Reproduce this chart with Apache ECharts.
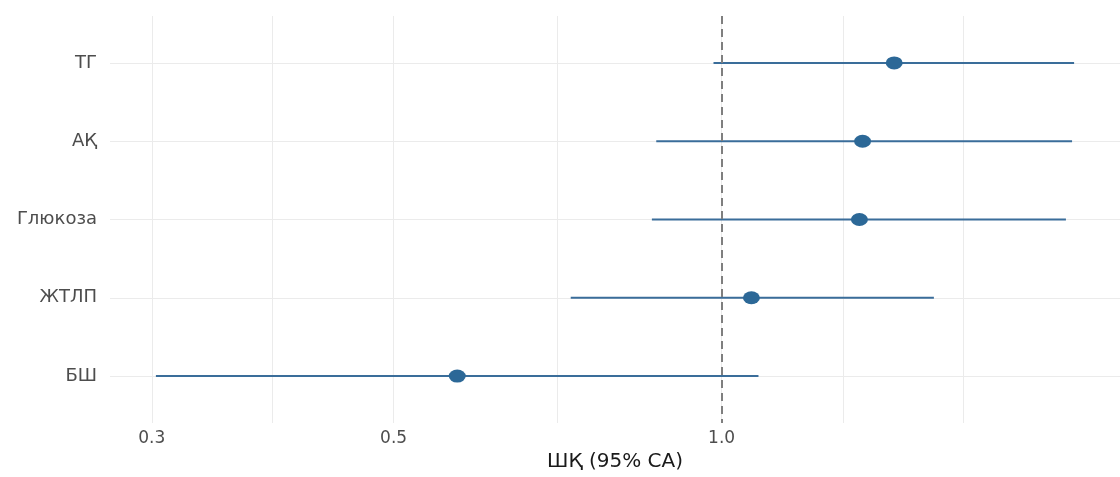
<!DOCTYPE html>
<html>
<head>
<meta charset="utf-8">
<script src="https://cdn.jsdelivr.net/npm/echarts@6/dist/echarts.min.js"></script>
<style>
  html, body { margin: 0; background: #fff; overflow: hidden; }
  #chart { width: 1120px; height: 477px; }
</style>
</head>
<body>
<div id="chart"></div>
<script>
// rows top to bottom
const categories = ['ТГ', 'АҚ', 'Глюкоза', 'ЖТЛП', 'БШ'];
const oddsRatio = [1.44, 1.347, 1.338, 1.065, 0.572];
const ciLower = [0.983, 0.871, 0.863, 0.727, 0.3026];
const ciUpper = [2.106, 2.097, 2.07, 1.566, 1.081];

// x axis is log scaled: labelled breaks plus the light grid positions
const labelBreaks = [0.3, 0.5, 1.0];
const gridBreaks = [0.3, 0.387, 0.5, 0.707, 1.0, 1.292, 1.668];
const refValue = 1.0;

const ln = Math.log;
const rows = categories.map((c, i) => i + 1);

// ggplot style 5% expansion of the log range
const lo = ln(Math.min(...ciLower));
const hi = ln(Math.max(...ciUpper));
const pad = (hi - lo) * 0.05;

const lineColor = '#3a6d9a';
const pointColor = '#2c6897';
const gridColor = '#ebebeb';
const font = 'DejaVu Sans';

const chart = echarts.init(document.getElementById('chart'), null, { renderer: 'canvas' });

chart.setOption({
  animation: false,
  backgroundColor: '#fff',
  grid: { left: 110, top: 16, width: 1016, bottom: 47, containLabel: false },
  xAxis: {
    type: 'value',
    min: lo - pad,
    max: hi + pad,
    name: 'ШҚ (95% СА)',
    nameLocation: 'middle',
    nameGap: 29,
    nameTextStyle: { color: '#1a1a1a', fontSize: 20, fontFamily: font },
    axisLine: { show: false },
    axisTick: { show: false, customValues: gridBreaks.map(ln) },
    splitLine: { show: true, lineStyle: { color: gridColor, width: 1 } },
    axisLabel: {
      customValues: labelBreaks.map(ln),
      formatter: (v) => Math.exp(v).toFixed(1),
      color: '#4d4d4d',
      fontSize: 17,
      fontFamily: font,
      margin: 7,
    },
  },
  yAxis: {
    type: 'value',
    inverse: true,
    min: 0.4,
    max: 5.6,
    axisLine: { show: false },
    axisTick: { show: false, customValues: rows },
    splitLine: { show: true, lineStyle: { color: gridColor, width: 1 } },
    axisLabel: {
      customValues: rows,
      formatter: (v) => categories[Math.round(v) - 1] || '',
      color: '#4d4d4d',
      fontSize: 18,
      fontFamily: font,
      margin: 13,
    },
  },
  series: [
    {
      // confidence intervals
      type: 'custom',
      z: 2,
      silent: true,
      data: categories.map((c, i) => [ln(ciLower[i]), ln(ciUpper[i]), i + 1]),
      renderItem: (params, api) => {
        const a = api.coord([api.value(0), api.value(2)]);
        const b = api.coord([api.value(1), api.value(2)]);
        return {
          type: 'line',
          shape: { x1: a[0], y1: a[1], x2: b[0], y2: b[1] },
          style: { stroke: lineColor, lineWidth: 2 },
        };
      },
    },
    {
      type: 'scatter',
      z: 3,
      symbol: 'circle',
      symbolSize: [17, 13],
      itemStyle: { color: pointColor, opacity: 1 },
      data: oddsRatio.map((v, i) => [ln(v), i + 1]),
      markLine: {
        silent: true,
        symbol: 'none',
        label: { show: false },
        lineStyle: { color: '#7f7f7f', type: [8, 5], width: 2 },
        data: [{ xAxis: ln(refValue) }],
      },
    },
  ],
});
</script>
</body>
</html>
